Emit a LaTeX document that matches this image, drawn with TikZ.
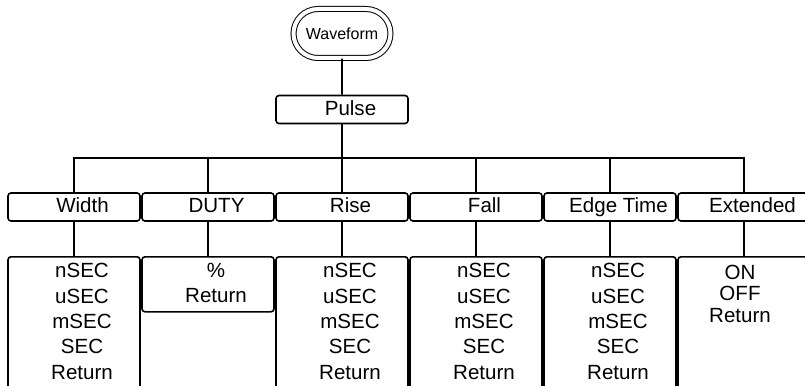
\documentclass[tikz,border=0pt]{standalone}
\usepackage{fontspec}
\setmainfont{Liberation Sans}
\usetikzlibrary{shapes.misc, positioning}

\begin{document}
\begin{tikzpicture}[
          x=0.75pt, y=-0.75pt,
          line width=1.2pt,
          root/.style={draw, rounded rectangle, double, double distance=3pt, line width=0.75pt,
                       minimum width=72.75pt, minimum height=36.75pt, inner sep=0pt,
                       font=\fontsize{12}{14}\selectfont},
          menu/.style={draw, rounded corners=2.25pt, minimum width=99pt, minimum height=21pt,
                       inner sep=0pt, text height=11pt, text depth=2.5pt,
                       font=\fontsize{15.4}{19.1}\selectfont,
                       execute at begin node={\hspace*{12.75pt}}},
          list/.style={draw, rounded corners=2.25pt, anchor=north, minimum width=99pt,
                       minimum height=112.5pt},
          items/.style={anchor=north, align=center, xshift=6pt, yshift=-1.5pt,
                        font=\fontsize{15.4}{19.1}\selectfont},
        ]

        % page frame (lower boxes run off the bottom)
        \useasboundingbox (0,0) rectangle (805,385);
        \clip (0,0) rectangle (805,385);

        % --- top of the tree ---
        \node[root] (wave) at (342,33.5) {Waveform};
        \node[menu] (pulse) at (342,109.5) {Pulse};

        % --- soft keys ---
        \node[menu] (width) at (74,207)  {Width};
        \node[menu] (duty)  at (208,207) {DUTY};
        \node[menu] (rise)  at (342,207) {Rise};
        \node[menu] (fall)  at (476,207) {Fall};
        \node[menu] (edge)  at (610,207) {Edge Time};
        \node[menu] (ext)   at (744,207) {Extended};

        % --- sub menus ---
        \node[list, label={[items]north:{nSEC\\uSEC\\mSEC\\SEC\\Return}}]
          (widthlist) at (74,256) {};
        \node[list, minimum height=41.25pt, label={[items]north:{\%\\Return}}]
          (dutylist) at (208,256) {};
        \node[list, label={[items]north:{nSEC\\uSEC\\mSEC\\SEC\\Return}}]
          (riselist) at (342,256) {};
        \node[list, label={[items]north:{nSEC\\uSEC\\mSEC\\SEC\\Return}}]
          (falllist) at (476,256) {};
        \node[list, label={[items]north:{nSEC\\uSEC\\mSEC\\SEC\\Return}}]
          (edgelist) at (610,256) {};
        \node[list, label={[items, xshift=-9pt, yshift=-1.5pt, font=\fontsize{15.4}{16}\selectfont]north:{ON\\OFF\\Return}}]
          (extlist) at (744,256) {};

        % --- connectors ---
        \coordinate (bus) at (342,158);
        \draw (wave) -- (pulse);
        \draw (pulse.south) -- (pulse.south |- bus);
        \draw (width.north) -- (width.north |- bus) -- (ext.north |- bus) -- (ext.north);
        \draw (duty.north) -- (duty.north |- bus);
        \draw (rise.north) -- (rise.north |- bus);
        \draw (fall.north) -- (fall.north |- bus);
        \draw (edge.north) -- (edge.north |- bus);

        \draw (width) -- (widthlist);
        \draw (duty) -- (dutylist);
        \draw (rise) -- (riselist);
        \draw (fall) -- (falllist);
        \draw (edge) -- (edgelist);
        \draw (ext) -- (extlist);

\end{tikzpicture}
\end{document}
